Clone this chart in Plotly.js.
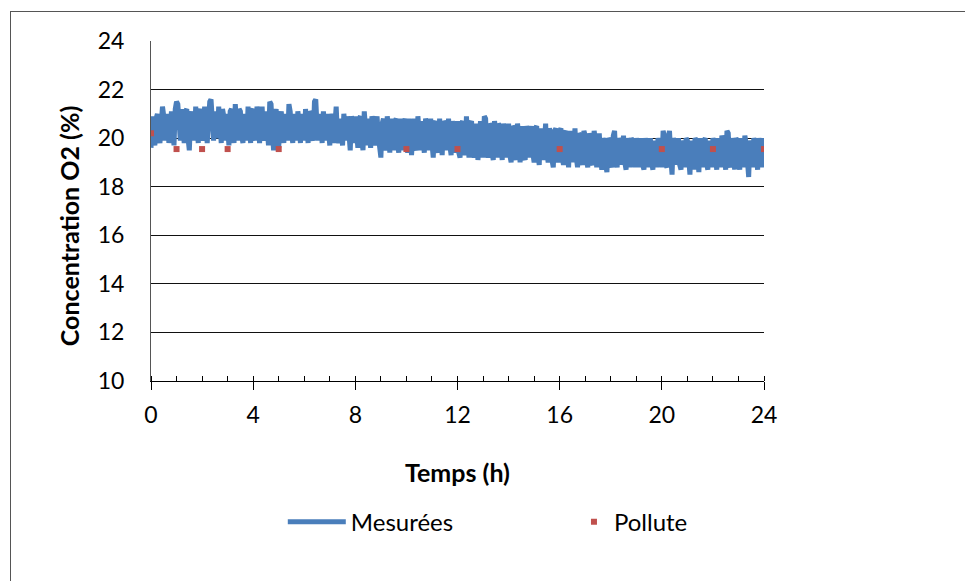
<!DOCTYPE html>
<html>
<head>
<meta charset="utf-8">
<script src="https://cdn.plot.ly/plotly-3.0.1.min.js"></script>
<style>
  html, body { margin: 0; padding: 0; background: #fff; }
  #chart { width: 965px; height: 581px; }
  #frame { position: absolute; left: 10px; top: 11px; width: 1000px; height: 1000px;
           border-left: 1px solid #555; border-top: 1px solid #555; pointer-events: none; }
</style>
</head>
<body>
<div id="chart"></div>
<div id="frame"></div>
<script>
// Sampling step of the measured series (hours)
const sampleStepH = 0.05;

const mesH00 = [19.6, 20.9, 20.3, 19.7, 20.8, 21.0, 20.1, 19.8, 20.6, 21.3, 20.9, 19.9, 20.4, 21.0, 19.8, 20.2, 21.1, 20.5, 19.7, 21.2];
const mesH01 = [21.5, 21.4, 20.3, 19.9, 21.2, 20.6, 19.8, 21.1, 21.2, 20.0, 19.5, 20.8, 21.1, 20.4, 19.9, 21.3, 20.7, 19.8, 21.0, 21.2];
const mesH02 = [20.2, 19.9, 21.3, 20.8, 19.8, 21.2, 21.5, 21.6, 20.4, 19.9, 21.1, 20.6, 20.0, 21.3, 20.2, 19.8, 21.2, 20.9, 19.9, 21.0];
const mesH03 = [20.5, 19.7, 21.1, 21.2, 20.2, 19.8, 21.4, 20.7, 19.9, 21.2, 21.1, 20.1, 19.8, 21.0, 20.6, 19.9, 21.3, 20.4, 19.8, 21.1];
const mesH04 = [21.2, 20.3, 19.9, 21.3, 20.8, 19.8, 21.0, 21.3, 20.2, 19.9, 21.1, 20.5, 19.7, 21.5, 21.4, 20.3, 19.5, 20.9, 21.2, 20.1];
const mesH05 = [19.6, 20.8, 21.1, 20.3, 19.8, 21.0, 20.6, 19.9, 21.4, 21.1, 20.2, 19.8, 21.0, 20.4, 19.9, 21.1, 20.7, 19.8, 21.0, 20.5];
const mesH06 = [19.9, 21.2, 20.6, 19.8, 21.1, 21.0, 20.1, 19.9, 21.5, 21.6, 20.5, 19.9, 21.0, 20.7, 19.8, 21.1, 20.4, 19.9, 21.0, 20.3];
const mesH07 = [19.7, 21.0, 20.8, 19.8, 20.9, 21.3, 20.1, 19.8, 20.8, 20.4, 19.7, 21.0, 20.6, 19.9, 20.9, 20.3, 19.5, 20.9, 20.7, 19.8];
const mesH08 = [20.9, 20.2, 19.6, 20.8, 20.9, 19.9, 19.5, 21.1, 20.5, 19.7, 20.8, 20.3, 19.6, 20.9, 20.6, 19.7, 20.7, 20.9, 20.1, 19.6];
const mesH09 = [19.2, 20.6, 20.8, 19.8, 19.5, 20.9, 20.4, 19.4, 20.8, 20.2, 19.5, 20.7, 20.8, 19.8, 19.4, 20.8, 20.3, 19.5, 20.6, 20.8];
const mesH10 = [20.0, 19.4, 20.8, 20.4, 19.3, 20.7, 20.8, 19.7, 19.5, 20.9, 20.3, 19.5, 20.7, 20.1, 19.4, 20.8, 20.6, 19.5, 20.5, 20.8];
const mesH11 = [19.8, 19.2, 20.6, 20.7, 19.7, 19.4, 20.8, 20.2, 19.3, 20.7, 20.6, 19.5, 20.4, 20.8, 19.7, 19.3, 20.7, 20.3, 19.4, 20.6];
const mesH12 = [20.7, 19.4, 19.2, 20.6, 20.7, 19.7, 19.3, 20.9, 20.2, 19.2, 20.6, 20.7, 19.5, 19.2, 20.6, 20.2, 19.1, 20.5, 20.7, 19.7];
const mesH13 = [19.2, 20.9, 20.8, 19.5, 19.2, 20.6, 20.5, 19.4, 19.1, 20.7, 20.3, 19.2, 20.6, 20.5, 19.4, 19.1, 20.6, 20.2, 19.2, 20.5];
const mesH14 = [20.6, 19.3, 19.0, 20.5, 20.4, 19.4, 19.1, 20.6, 20.1, 19.0, 20.4, 20.5, 19.3, 19.1, 20.5, 20.2, 19.2, 20.3, 20.5, 19.4];
const mesH15 = [19.0, 20.4, 20.5, 19.3, 18.9, 20.4, 20.1, 19.1, 20.3, 20.6, 19.4, 19.0, 20.4, 20.2, 19.1, 18.8, 20.3, 20.4, 19.3, 19.0];
const mesH16 = [20.3, 20.4, 19.2, 18.9, 20.2, 20.3, 19.3, 18.8, 20.3, 20.0, 19.0, 20.1, 20.4, 19.2, 18.8, 20.2, 20.1, 19.1, 18.9, 20.3];
const mesH17 = [20.1, 19.1, 18.8, 20.2, 20.0, 19.0, 18.9, 20.3, 19.9, 18.8, 20.1, 20.2, 19.2, 18.7, 20.0, 19.8, 18.9, 18.6, 20.0, 19.9];
const mesH18 = [19.0, 18.8, 20.1, 20.3, 19.1, 18.8, 20.0, 19.8, 18.9, 19.9, 20.1, 19.0, 18.7, 20.0, 19.7, 18.8, 20.0, 19.9, 18.9, 18.8];
const mesH19 = [20.0, 19.6, 18.8, 19.9, 20.0, 18.9, 18.7, 20.0, 19.7, 18.8, 19.9, 20.0, 19.0, 18.7, 19.9, 19.6, 18.8, 20.0, 19.8, 18.9];
const mesH20 = [18.8, 20.3, 20.1, 18.9, 18.8, 20.0, 20.3, 19.2, 18.5, 20.0, 19.8, 18.9, 19.9, 20.0, 18.9, 18.7, 19.9, 19.7, 18.8, 20.0];
const mesH21 = [19.9, 18.9, 18.5, 19.9, 19.6, 18.7, 20.0, 19.9, 18.8, 18.6, 20.0, 19.5, 18.8, 19.9, 20.0, 19.0, 18.7, 19.9, 19.6, 18.8];
const mesH22 = [20.0, 19.8, 18.9, 18.7, 20.0, 19.7, 18.8, 20.1, 19.9, 18.9, 18.7, 20.3, 20.2, 19.0, 18.8, 20.0, 19.7, 18.7, 20.0, 19.9];
const mesH23 = [18.9, 18.7, 20.0, 19.6, 18.8, 20.1, 19.8, 18.5, 18.4, 19.9, 19.7, 18.8, 20.0, 19.8, 18.9, 18.7, 20.0, 19.6, 18.8, 20.0];
const mesH24 = [19.5];

// "Pollute" points
const polluteT = [0, 1, 2, 3, 5, 10, 12, 16, 20, 22, 24];
const polluteV = [20.2, 19.55, 19.55, 19.55, 19.55, 19.55, 19.55, 19.55, 19.55, 19.55, 19.55];

// Axis ticks
const xTickVals = [0, 4, 8, 12, 16, 20, 24];
const yTickVals = [10, 12, 14, 16, 18, 20, 22, 24];

const seriesNames = ['Mesurées', 'Pollute'];
const xTitle = 'Temps (h)';
const yTitle = 'Concentration O2 (%)';

const mesV = [].concat(mesH00, mesH01, mesH02, mesH03, mesH04, mesH05, mesH06, mesH07,
  mesH08, mesH09, mesH10, mesH11, mesH12, mesH13, mesH14, mesH15, mesH16, mesH17,
  mesH18, mesH19, mesH20, mesH21, mesH22, mesH23, mesH24);
const mesT = mesV.map((_, i) => Math.round(i * sampleStepH * 100) / 100);

const FONT = 'Lato, "Open Sans", sans-serif';

const traces = [
  {
    x: mesT, y: mesV, name: seriesNames[0], type: 'scatter', mode: 'lines',
    line: { color: '#4a7ebb', width: 5 }, xaxis: 'x', yaxis: 'y', legend: 'legend'
  },
  {
    x: polluteT, y: polluteV, name: seriesNames[1], type: 'scatter', mode: 'markers',
    marker: { color: '#c0504d', symbol: 'square', size: 6 }, xaxis: 'x', yaxis: 'y', legend: 'legend2'
  }
];

const legendFont = { family: FONT, size: 24, color: '#000' };

const layout = {
  width: 965, height: 581,
  margin: { l: 151, r: 201, t: 41, b: 200 },
  paper_bgcolor: '#fff', plot_bgcolor: '#fff',
  font: { family: FONT, color: '#000', size: 22 },
  showlegend: true,
  legend: {
    orientation: 'h', x: 0.215, xanchor: 'left', y: -0.415, yanchor: 'middle',
    font: legendFont, itemwidth: 58, bgcolor: 'rgba(0,0,0,0)'
  },
  legend2: {
    orientation: 'h', x: 0.69, xanchor: 'left', y: -0.415, yanchor: 'middle',
    font: legendFont, bgcolor: 'rgba(0,0,0,0)'
  },
  annotations: [
    {
      text: '<b>' + yTitle + '</b>', xref: 'paper', yref: 'paper', x: -0.134, y: 0.455,
      xanchor: 'center', yanchor: 'middle', textangle: -90, showarrow: false,
      font: { family: FONT, size: 25, color: '#000' }
    },
    {
      text: '<b>' + xTitle + '</b>', xref: 'paper', yref: 'paper', x: 0.5, y: -0.268,
      xanchor: 'center', yanchor: 'middle', showarrow: false,
      font: { family: FONT, size: 25, color: '#000' }
    }
  ],
  xaxis: {
    range: [0, 24], tickvals: xTickVals, ticktext: xTickVals.map(String),
    ticks: 'outside', ticklen: 8, tickwidth: 1, tickcolor: '#000',
    minor: { dtick: 1, ticks: 'inside', ticklen: 5, tickcolor: '#000', tickwidth: 1, showgrid: false },
    showline: true, linecolor: '#000', linewidth: 1, showgrid: false, zeroline: false,
    tickfont: { family: FONT, size: 23 }, ticklabelstandoff: 5,
    fixedrange: true
  },
  xaxis2: {
    overlaying: 'x', anchor: 'y', side: 'bottom', range: [0, 24], tickvals: xTickVals,
    ticks: 'inside', ticklen: 9, tickwidth: 1, tickcolor: '#000',
    showticklabels: false, showgrid: false, zeroline: false, showline: false
  },
  yaxis: {
    range: [10, 24], tickvals: yTickVals, ticktext: yTickVals.map(String),
    ticks: '', showline: true, linecolor: '#555', linewidth: 1,
    showgrid: true, gridcolor: '#111', gridwidth: 1, zeroline: false,
    tickfont: { family: FONT, size: 23 }, ticklabelstandoff: 21,
    fixedrange: true
  }
};

Plotly.newPlot('chart', traces, layout, { displayModeBar: false, staticPlot: true });
</script>
</body>
</html>
